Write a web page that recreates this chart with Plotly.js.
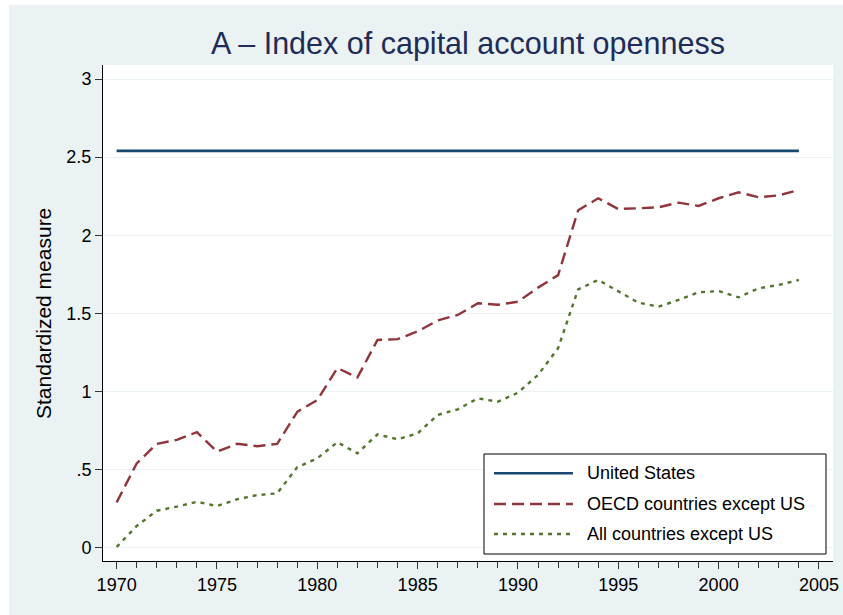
<!DOCTYPE html>
<html>
<head>
<meta charset="utf-8">
<script src="https://cdn.plot.ly/plotly-3.0.1.min.js"></script>
<style>
  html, body { margin: 0; padding: 0; background: #ffffff; width: 843px; height: 615px; overflow: hidden; }
  #chart { position: absolute; left: 9px; top: 5px; width: 834px; height: 610px; }
</style>
</head>
<body>
<div id="chart"></div>
<script>
// ---- Data ----
const years = [1970,1971,1972,1973,1974,1975,1976,1977,1978,1979,1980,1981,1982,1983,1984,1985,1986,1987,
               1988,1989,1990,1991,1992,1993,1994,1995,1996,1997,1998,1999,2000,2001,2002,2003,2004];
const usValues = [2.54,2.54,2.54,2.54,2.54,2.54,2.54,2.54,2.54,2.54,2.54,2.54,2.54,2.54,2.54,2.54,2.54,2.54,
                  2.54,2.54,2.54,2.54,2.54,2.54,2.54,2.54,2.54,2.54,2.54,2.54,2.54,2.54,2.54,2.54,2.54];
const oecdValues = [0.29,0.54,0.665,0.69,0.74,0.615,0.665,0.65,0.665,0.87,0.945,1.15,1.09,1.33,1.335,1.385,1.455,1.49,
                    1.565,1.555,1.575,1.665,1.745,2.16,2.237,2.168,2.173,2.179,2.209,2.188,2.237,2.275,2.243,2.256,2.29];
const allValues = [0.005,0.139,0.237,0.263,0.294,0.267,0.31,0.337,0.348,0.515,0.572,0.675,0.604,0.726,0.694,0.732,0.85,0.886,
                   0.956,0.935,0.992,1.106,1.277,1.654,1.714,1.639,1.569,1.543,1.586,1.635,1.643,1.603,1.661,1.682,1.714];
const seriesNames = ["United States", "OECD countries except US", "All countries except US"];
const yTickVals = [0, 0.5, 1, 1.5, 2, 2.5, 3];
const yTickText = ["0", ".5", "1", "1.5", "2", "2.5", "3"];
const xTickVals = [1970, 1975, 1980, 1985, 1990, 1995, 2000, 2005];
const xTickText = ["1970", "1975", "1980", "1985", "1990", "1995", "2000", "2005"];

// ---- Styles ----
const FONT = "Liberation Sans, Arial, Helvetica, sans-serif";
const colors = ["#1A476F", "#90353B", "#55752F"];
const dashes = ["solid", "12px,6px", "4px,5px"];
const widths = [2.6, 2.4, 2.4];
const valuesList = [usValues, oecdValues, allValues];

const traces = valuesList.map((vals, i) => ({
  x: years, y: vals, type: "scatter", mode: "lines", name: seriesNames[i],
  line: { color: colors[i], width: widths[i], dash: dashes[i] },
  showlegend: false, hoverinfo: "skip"
}));

// manual legend (Stata-style boxed legend)
const legX0 = 0.5219, legX1 = 0.9904, legY0 = 0.0141, legY1 = 0.2157;
const rowY = [0.1768, 0.1149, 0.0544];
const sampleX0 = 0.5356, sampleX1 = 0.6438, textX = 0.660;

const shapes = [
  { type: "rect", xref: "paper", yref: "paper", x0: legX0, x1: legX1, y0: legY0, y1: legY1,
    fillcolor: "#ffffff", line: { color: "#000000", width: 1 }, layer: "above" }
];
const annotations = [
  { xref: "paper", yref: "paper", x: -0.0822, y: 0.5, xanchor: "center", yanchor: "middle",
    text: "Standardized measure", textangle: -90, showarrow: false,
    font: { family: FONT, size: 21, color: "#000000" } }
];
seriesNames.forEach((nm, i) => {
  shapes.push({ type: "line", xref: "paper", yref: "paper", x0: sampleX0, x1: sampleX1, y0: rowY[i], y1: rowY[i],
    line: { color: colors[i], width: widths[i], dash: dashes[i] }, layer: "above" });
  annotations.push({ xref: "paper", yref: "paper", x: textX, y: rowY[i], xanchor: "left", yanchor: "middle",
    text: nm, showarrow: false, font: { family: FONT, size: 18, color: "#000000" } });
});

const layout = {
  width: 834, height: 610,
  paper_bgcolor: "#EAF2F3",
  plot_bgcolor: "#ffffff",
  margin: { l: 94, r: 10, t: 60, b: 54, pad: 0 },
  font: { family: FONT, size: 18, color: "#000000" },
  title: { text: "A \u2013 Index of capital account openness", xref: "paper", x: 0.5, xanchor: "center",
           yref: "container", y: 0.9377, yanchor: "middle",
           font: { family: FONT, size: 30.5, color: "#1E2C58" } },
  xaxis: {
    range: [1969.32, 2005.7], tickmode: "array", tickvals: xTickVals, ticktext: xTickText,
    showgrid: false, zeroline: false, showline: true, linecolor: "#000000", linewidth: 1,
    ticks: "outside", ticklen: 7, tickwidth: 1, tickcolor: "#333333",
    tickfont: { family: FONT, size: 18, color: "#000000" },
    minor: { dtick: 1, ticks: "outside", ticklen: 6, tickwidth: 1, tickcolor: "#333333", showgrid: false },
    fixedrange: true
  },
  yaxis: {
    range: [-0.085, 3.09], tickmode: "array", tickvals: yTickVals, ticktext: yTickText,
    showgrid: true, gridcolor: "#EAF2F3", gridwidth: 1, zeroline: false,
    showline: true, linecolor: "#000000", linewidth: 1,
    ticks: "outside", ticklen: 7, tickwidth: 1, tickcolor: "#333333",
    tickfont: { family: FONT, size: 18, color: "#000000" },
    fixedrange: true
  },
  showlegend: false,
  shapes: shapes,
  annotations: annotations
};

Plotly.newPlot("chart", traces, layout, { displayModeBar: false, staticPlot: true });
</script>
</body>
</html>
